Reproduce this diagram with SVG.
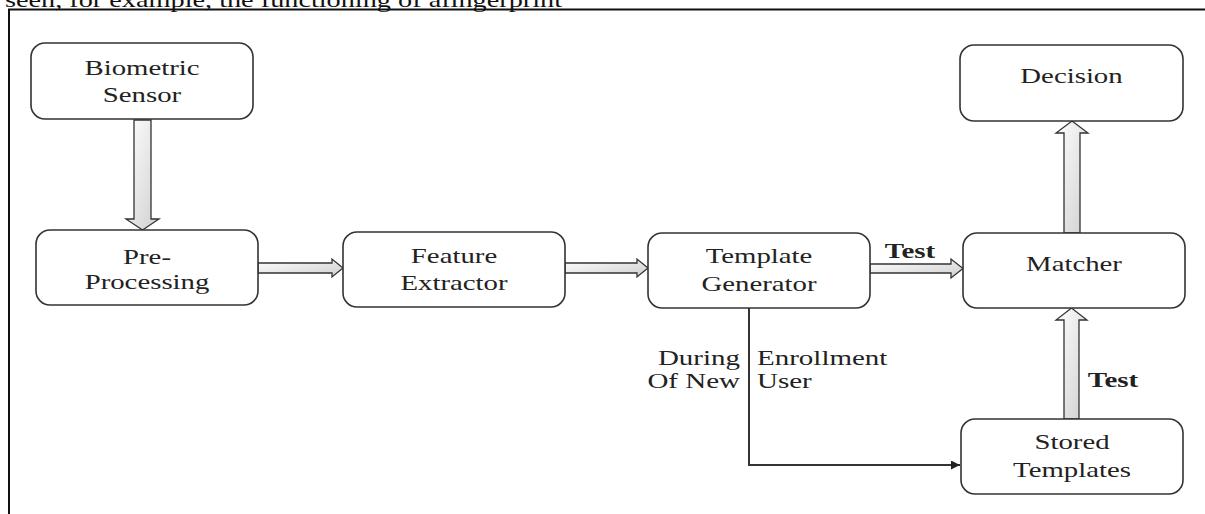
<svg xmlns="http://www.w3.org/2000/svg" width="1205" height="514" viewBox="0 0 1205 514">
<defs>
<style>
.box{fill:#fff;stroke:#333;stroke-width:1.6}
.t{font-family:"Liberation Serif","Times New Roman",serif;font-size:20px;fill:#222;text-anchor:middle}
.b{font-weight:bold}
.blk{fill:url(#g);stroke:#333;stroke-width:1.3;stroke-linejoin:miter}
.ln{fill:none;stroke:#333;stroke-width:2}
</style>
<linearGradient id="g" x1="0" y1="0" x2="1" y2="1">
<stop offset="0" stop-color="#ffffff"/>
<stop offset="1" stop-color="#cfcfcf"/>
</linearGradient>
<marker id="ah" viewBox="0 0 10 10" refX="10" refY="5" markerWidth="9" markerHeight="9" markerUnits="userSpaceOnUse" orient="auto">
<path d="M0,0 L10,5 L0,10 z" fill="#222"/>
</marker>
</defs>
<rect width="1205" height="514" fill="#fff"/>
<text x="5" y="7" font-family="Liberation Serif,Times New Roman,serif" font-size="22" fill="#111" textLength="557" lengthAdjust="spacingAndGlyphs">seen, for example, the functioning of afingerprint</text>
<rect x="9" y="9.5" width="1300" height="600" fill="none" stroke="#111" stroke-width="2"/>

<g id="connectors">
<polygon class="blk" points="134,120 151,120 151,219 159,219 142.5,230 126,219 134,219"/>
<polygon class="blk" points="258,263 332,263 332,259 343,268 332,277 332,273 258,273"/>
<polygon class="blk" points="565,263 637,263 637,259 648,268 637,277 637,273 565,273"/>
<polygon class="blk" points="870,264 951,264 951,259 963,268.5 951,278 951,273 870,273"/>
<polygon class="blk" points="1064,233 1064,133 1056,133 1072,121 1088,133 1080,133 1080,233"/>
<polygon class="blk" points="1064,419 1064,320 1056,320 1071.5,308 1087,320 1079,320 1079,419"/>
<polyline class="ln" points="749,308 749,465 960,465" marker-end="url(#ah)"/>
<text class="t b" transform="translate(910,258) scale(1.45,1)">Test</text>
<text class="t b" transform="translate(1113,387) scale(1.45,1)">Test</text>
<text class="t" style="text-anchor:end" transform="translate(740,365) scale(1.45,1)">During</text>
<text class="t" style="text-anchor:end" transform="translate(740,388) scale(1.45,1)">Of  New</text>
<text class="t" style="text-anchor:start" transform="translate(757,365) scale(1.45,1)">Enrollment</text>
<text class="t" style="text-anchor:start" transform="translate(757,388) scale(1.45,1)">User</text>
</g>

<g id="biometric-sensor">
<rect class="box" x="31" y="43" width="222" height="76" rx="14"/>
<text class="t" transform="translate(142,75) scale(1.44,1)">Biometric</text>
<text class="t" transform="translate(142,102) scale(1.44,1)">Sensor</text>
</g>
<g id="pre-processing">
<rect class="box" x="36" y="230" width="222" height="75" rx="14"/>
<text class="t" transform="translate(147,264) scale(1.44,1)">Pre-</text>
<text class="t" transform="translate(147,289) scale(1.44,1)">Processing</text>
</g>
<g id="feature-extractor">
<rect class="box" x="343" y="232" width="222" height="75" rx="14"/>
<text class="t" transform="translate(454,263) scale(1.44,1)">Feature</text>
<text class="t" transform="translate(454,290) scale(1.44,1)">Extractor</text>
</g>
<g id="template-generator">
<rect class="box" x="648" y="233" width="222" height="75" rx="14"/>
<text class="t" transform="translate(759,263) scale(1.44,1)">Template</text>
<text class="t" transform="translate(759,291) scale(1.44,1)">Generator</text>
</g>
<g id="matcher">
<rect class="box" x="963" y="233" width="222" height="75" rx="14"/>
<text class="t" transform="translate(1074,271) scale(1.44,1)">Matcher</text>
</g>
<g id="decision">
<rect class="box" x="960" y="45" width="223" height="76" rx="14"/>
<text class="t" transform="translate(1071.5,83) scale(1.44,1)">Decision</text>
</g>
<g id="stored-templates">
<rect class="box" x="961" y="419" width="222" height="75" rx="14"/>
<text class="t" transform="translate(1072,449) scale(1.44,1)">Stored</text>
<text class="t" transform="translate(1072,477) scale(1.44,1)">Templates</text>
</g>
</svg>
